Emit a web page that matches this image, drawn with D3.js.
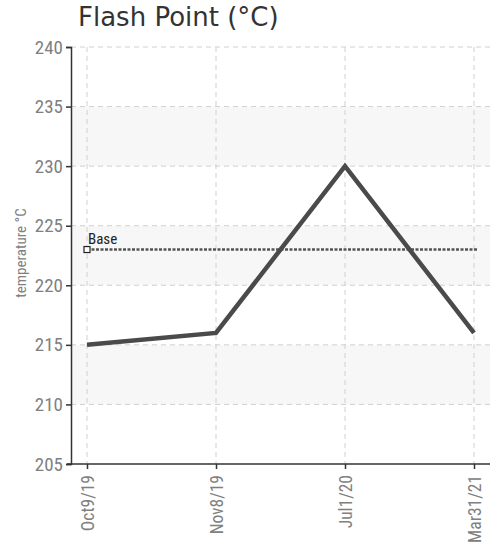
<!DOCTYPE html>
<html>
<head>
<meta charset="utf-8">
<script src="https://cdn.jsdelivr.net/npm/d3@7"></script>
<style>
  body { margin: 0; background: #fff; }
  .narrow { font-family: "Liberation Sans Narrow", "Roboto Condensed", "Liberation Sans", sans-serif; }
</style>
</head>
<body>
<svg id="chart"></svg>
<script>
// data
const dates = ['Oct9/19', 'Nov8/19', 'Jul1/20', 'Mar31/21'];
const flashPoint = [215, 216, 230, 216];
const baseValue = 223;
const yTicks = [205, 210, 215, 220, 225, 230, 235, 240];

const width = 503, height = 543;
const margin = { top: 47, right: 13, bottom: 79, left: 71 };

const svg = d3.select('#chart').attr('width', width).attr('height', height);

const y = d3.scaleLinear().domain([205, 240]).range([height - margin.bottom, margin.top]);
const x = d3.scalePoint().domain(dates).range([87, 474]);
const right = width - margin.right;

// bandas alternadas
const bands = d3.pairs(yTicks).filter((d, i) => i % 2 === 1);
svg.append('g').selectAll('rect').data(bands).join('rect')
  .attr('x', margin.left)
  .attr('width', right - margin.left)
  .attr('y', d => y(d[1]))
  .attr('height', d => y(d[0]) - y(d[1]))
  .attr('fill', '#f7f7f7');

// grid
svg.append('g').selectAll('line').data(yTicks.slice(1)).join('line')
  .attr('x1', margin.left).attr('x2', right)
  .attr('y1', d => y(d)).attr('y2', d => y(d))
  .attr('stroke', '#d0d0d0').attr('stroke-dasharray', '5,4');

svg.append('g').selectAll('line').data(dates).join('line')
  .attr('x1', d => x(d)).attr('x2', d => x(d))
  .attr('y1', margin.top).attr('y2', y(205))
  .attr('stroke', '#d0d0d0').attr('stroke-dasharray', '5,4');

// eixos
const yAxis = svg.append('g')
  .attr('transform', `translate(${margin.left},0)`)
  .call(d3.axisLeft(y).tickValues(yTicks).tickSize(5).tickPadding(3));
const xAxis = svg.append('g')
  .attr('transform', `translate(0,${y(205)})`)
  .call(d3.axisBottom(x).tickSize(5).tickPadding(6));
xAxis.select('.domain').attr('d', `M${margin.left - 4},0H${right}`);

[yAxis, xAxis].forEach(g => {
  g.select('.domain').attr('stroke', '#333').attr('stroke-width', 1.5);
  g.selectAll('.tick line').attr('stroke', '#333').attr('stroke-width', 1.5);
  g.selectAll('text').attr('class', 'narrow').attr('font-size', 19).attr('fill', '#808080');
});

// rotulos do eixo x: verticais e comprimidos
xAxis.selectAll('text')
  .attr('transform', 'rotate(-90) scale(0.92,1)')
  .attr('text-anchor', 'end')
  .attr('x', -12).attr('y', 0).attr('dy', '0.35em');

// titulo do eixo y
svg.append('text')
  .attr('class', 'narrow')
  .attr('transform', 'translate(26,253) rotate(-90)')
  .attr('text-anchor', 'middle')
  .attr('font-size', 15)
  .attr('fill', '#808080')
  .text('temperature °C');

// linha base
svg.append('line')
  .attr('x1', x(dates[0])).attr('x2', 477)
  .attr('y1', y(baseValue)).attr('y2', y(baseValue))
  .attr('stroke', '#555').attr('stroke-width', 2.5).attr('stroke-dasharray', '3,1.5');
svg.append('rect')
  .attr('x', x(dates[0]) - 3).attr('y', y(baseValue) - 3)
  .attr('width', 6).attr('height', 6)
  .attr('fill', '#fff').attr('stroke', '#222').attr('stroke-width', 1.2);
svg.append('text')
  .attr('class', 'narrow')
  .attr('x', x(dates[0]) + 1).attr('y', y(baseValue) - 6)
  .attr('font-size', 15).attr('fill', '#222')
  .text('Base');

// serie
const line = d3.line().x((d, i) => x(dates[i])).y(d => y(d));
svg.append('path').datum(flashPoint)
  .attr('fill', 'none').attr('stroke', '#4a4a4a').attr('stroke-width', 4.5)
  .attr('stroke-linejoin', 'miter').attr('d', line);

// titulo
svg.append('text')
  .attr('x', 78).attr('y', 26)
  .attr('font-family', 'DejaVu Sans, Verdana, sans-serif')
  .attr('font-size', 26).attr('fill', '#333')
  .text('Flash Point (°C)');
</script>
</body>
</html>
